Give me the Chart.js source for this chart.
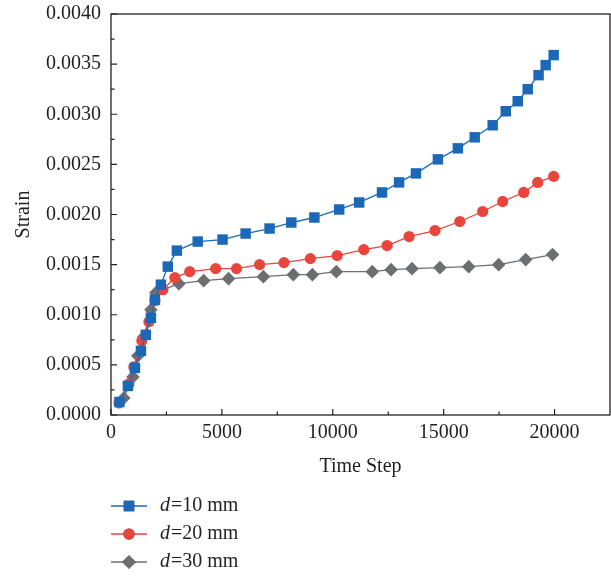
<!DOCTYPE html>
<html>
<head>
<meta charset="utf-8">
<script src="https://cdn.jsdelivr.net/npm/chart.js@4"></script>
<style>
  html, body { margin: 0; padding: 0; background: #fff; }
  #wrap { width: 611px; height: 578px; }
</style>
</head>
<body>
<div id="wrap"><canvas id="myChart" width="611" height="578"></canvas></div>
<script>
// values
const seriesNames = ['10 mm', '20 mm', '30 mm'];
const seriesColors = ['#1b69b6', '#e8463d', '#6d6e71'];

const d10Steps = [380, 760, 1080, 1350, 1570, 1800, 1980, 2250, 2560, 2970, 3910, 5030, 6070, 7150, 8130, 9170, 10290, 11190, 12220, 12990, 13750, 14740, 15640, 16400, 17210, 17800, 18340, 18790, 19280, 19600, 19960];
const d10Strain = [0.00013, 0.00029, 0.00047, 0.00064, 0.00080, 0.00097, 0.00115, 0.00130, 0.00148, 0.00164, 0.00173, 0.00175, 0.00181, 0.00186, 0.00192, 0.00197, 0.00205, 0.00212, 0.00222, 0.00232, 0.00241, 0.00255, 0.00266, 0.00277, 0.00289, 0.00303, 0.00313, 0.00325, 0.00339, 0.00349, 0.00359];

const d20Steps = [360, 810, 1030, 1390, 1710, 1980, 2340, 2880, 3550, 4720, 5660, 6700, 7800, 8990, 10200, 11400, 12450, 13440, 14610, 15730, 16760, 17660, 18610, 19240, 19960];
const d20Strain = [0.00012, 0.00031, 0.00048, 0.00074, 0.00093, 0.00114, 0.00125, 0.00137, 0.00143, 0.00146, 0.00146, 0.00150, 0.00152, 0.00156, 0.00159, 0.00165, 0.00169, 0.00178, 0.00184, 0.00193, 0.00203, 0.00213, 0.00222, 0.00232, 0.00238];

const d30Steps = [580, 990, 1210, 1480, 1800, 2020, 3060, 4180, 5300, 6870, 8220, 9080, 10160, 11780, 12630, 13570, 14830, 16130, 17480, 18700, 19910];
const d30Strain = [0.00017, 0.00038, 0.00059, 0.00078, 0.00105, 0.00122, 0.00131, 0.00134, 0.00136, 0.00138, 0.00140, 0.00140, 0.00143, 0.00143, 0.00145, 0.00146, 0.00147, 0.00148, 0.00150, 0.00155, 0.00160];

const xTicks = [0, 5000, 10000, 15000, 20000];
const yTicks = [0, 0.0005, 0.0010, 0.0015, 0.0020, 0.0025, 0.0030, 0.0035, 0.0040];

const FONT = "'Liberation Serif', 'Times New Roman', serif";

function toPoints(xs, ys) {
    return xs.map((x, i) => ({ x: x, y: ys[i] }));
}

// box, inward ticks and the legend under the plot
const framePlugin = {
    id: 'frame',
    afterDraw(chart) {
        const ctx = chart.ctx;
        const a = chart.chartArea;
        const xs = chart.scales.x, ys = chart.scales.y;
        ctx.save();
        ctx.strokeStyle = '#231f20';
        ctx.lineWidth = 1.3;
        ctx.strokeRect(a.left, a.top, a.right - a.left, a.bottom - a.top);

        ctx.lineWidth = 1.2;
        ctx.beginPath();
        for (let i = 0; i < xTicks.length; i++) {
            const px = xs.getPixelForValue(xTicks[i]);
            ctx.moveTo(px, a.bottom); ctx.lineTo(px, a.bottom - 6);
            const mx = xs.getPixelForValue(xTicks[i] + 2500);
            if (mx < a.right - 2) { ctx.moveTo(mx, a.bottom); ctx.lineTo(mx, a.bottom - 3.5); }
        }
        for (let i = 0; i < yTicks.length; i++) {
            const py = ys.getPixelForValue(yTicks[i]);
            ctx.moveTo(a.left, py); ctx.lineTo(a.left + 6, py);
            if (i < yTicks.length - 1) {
                const my = ys.getPixelForValue(yTicks[i] + 0.00025);
                ctx.moveTo(a.left, my); ctx.lineTo(a.left + 3.5, my);
            }
        }
        ctx.stroke();

        // legend
        const rowsY = [506, 534, 562];
        chart.data.datasets.forEach((ds, i) => {
            const y = rowsY[i];
            ctx.strokeStyle = ds.borderColor;
            ctx.lineWidth = 1.3;
            ctx.beginPath();
            ctx.moveTo(111, y); ctx.lineTo(147, y);
            ctx.stroke();
            Chart.helpers.drawPoint(ctx, {
                pointStyle: ds.pointStyle,
                radius: ds.pointRadius,
                borderWidth: 0,
                rotation: 0
            }, 129, y);
            ctx.fillStyle = ds.pointBackgroundColor;
            ctx.fill();

            ctx.fillStyle = '#231f20';
            ctx.textBaseline = 'middle';
            ctx.textAlign = 'left';
            ctx.font = 'italic 20px ' + FONT;
            ctx.fillText('d', 160, y);
            const w = ctx.measureText('d').width;
            ctx.font = '20px ' + FONT;
            ctx.fillText('=' + seriesNames[i], 160 + w + 1, y);
        });
        ctx.restore();
    }
};

function makeDataset(label, xs, ys, color, style, radius) {
    return {
        label: label,
        data: toPoints(xs, ys),
        borderColor: color,
        backgroundColor: color,
        pointBackgroundColor: color,
        pointBorderColor: color,
        pointBorderWidth: 0,
        borderWidth: 1.3,
        pointStyle: style,
        pointRadius: radius,
        pointHoverRadius: radius,
        tension: 0
    };
}

const ctx = document.getElementById('myChart').getContext('2d');
const myChart = new Chart(ctx, {
    type: 'line',
    data: {
        datasets: [
            makeDataset('d=10 mm', d10Steps, d10Strain, seriesColors[0], 'rect', 7.4),
            makeDataset('d=20 mm', d20Steps, d20Strain, seriesColors[1], 'circle', 5.6),
            makeDataset('d=30 mm', d30Steps, d30Strain, seriesColors[2], 'rectRot', 6.8)
        ]
    },
    plugins: [framePlugin],
    options: {
        responsive: false,
        animation: false,
        layout: { autoPadding: false, padding: { top: 14, right: 1, bottom: 98, left: 0 } },
        plugins: {
            legend: { display: false },
            tooltip: { enabled: false }
        },
        scales: {
            x: {
                type: 'linear',
                min: 0,
                max: 22500,
                afterBuildTicks: scale => { scale.ticks = xTicks.map(v => ({ value: v })); },
                afterFit: scale => {
                    scale.height = 65;
                    scale.paddingLeft = 0;
                    scale.paddingRight = 0;
                },
                grid: { display: false, drawTicks: false },
                border: { display: false },
                ticks: {
                    padding: 6,
                    color: '#231f20',
                    font: { family: FONT, size: 20 },
                    maxRotation: 0,
                    callback: v => String(v)
                },
                title: {
                    display: true,
                    text: 'Time Step',
                    color: '#231f20',
                    font: { family: FONT, size: 20 },
                    padding: { top: 0, bottom: 1 }
                }
            },
            y: {
                min: 0,
                max: 0.004,
                afterBuildTicks: scale => { scale.ticks = yTicks.map(v => ({ value: v })); },
                afterFit: scale => {
                    scale.width = 111;
                    scale.paddingTop = 0;
                    scale.paddingBottom = 0;
                },
                grid: { display: false, drawTicks: false },
                border: { display: false },
                ticks: {
                    padding: 10,
                    color: '#231f20',
                    font: { family: FONT, size: 20 },
                    callback: v => v.toFixed(4)
                },
                title: {
                    display: true,
                    text: 'Strain',
                    color: '#231f20',
                    font: { family: FONT, size: 20 },
                    padding: { top: 12, bottom: 0 }
                }
            }
        }
    }
});
</script>
</body>
</html>
